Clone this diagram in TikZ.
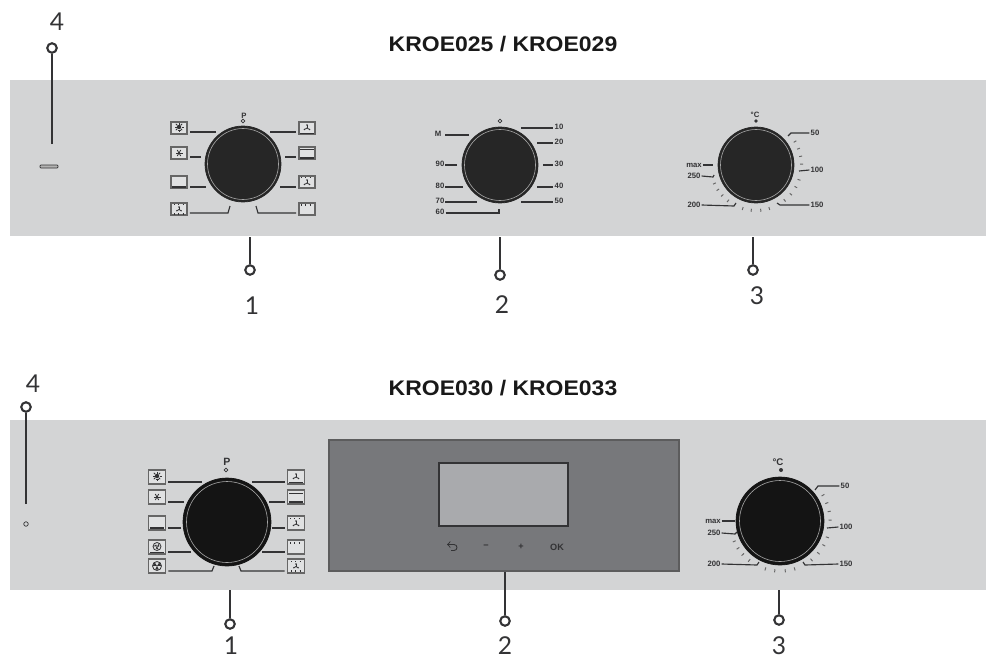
\documentclass[tikz,border=0pt]{standalone}
\usepackage{fontspec}
\setmainfont{Liberation Sans}
\newfontfamily\digitfont{Lato}
\usepackage{xcolor}
\definecolor{panelgray}{HTML}{D3D4D5}
\definecolor{screengray}{HTML}{77787B}
\definecolor{lcdgray}{HTML}{A9AAAD}
\definecolor{inkgray}{HTML}{333335}
\tikzset{
  panel/.style={fill=panelgray,draw=none},
  dialknob/.style={circle,fill=#1,draw=#1,inner sep=0pt},
  dialring/.style={draw=gray!70,line width=0.35pt},
  iconbox/.style={rectangle,draw=gray!80!black,line width=0.9pt,fill=panelgray!70!white,minimum width=0.32cm,minimum height=0.25cm,inner sep=0pt},
  iconink/.style={draw=inkgray,line width=0.45pt},
  scalelabel/.style={font=\bfseries\fontsize{4.4}{5}\selectfont,text=inkgray,inner sep=0.5pt},
  scaleline/.style={draw=inkgray,line width=0.65pt},
  scaletick/.style={draw=black!60,line width=0.55pt},
  leadline/.style={draw=inkgray,line width=1.1pt},
  ringmark/.style={circle,draw=inkgray,line width=1.2pt,fill=white,minimum size=0.19cm,inner sep=0pt},
  refdigit/.style={font=\digitfont\fontsize{14}{16}\selectfont,text=inkgray,inner sep=0pt},
  heading/.style={font=\bfseries\fontsize{12}{14}\selectfont,text=black!90,inner sep=0pt,xscale=1.09},
  pilotmark/.style={circle,draw=inkgray,line width=0.4pt,minimum size=0.075cm,inner sep=0pt},
  keylabel/.style={font=\bfseries\fontsize{5.2}{6}\selectfont,text=inkgray,inner sep=0pt},
  iclamp/.pic={
    \fill[inkgray] (0,-1) circle (2.2);
    \foreach \a in {0,45,...,315} \draw[iconink] (0,-1) ++(\a:2.5) -- ++(\a:2);
    \draw[iconink] (-1.5,2.5) -- (1.5,2.5);},
  icsnow/.pic={
    \foreach \a in {0,60,120} \draw[iconink] (\a:3.5) -- (\a+180:3.5);
    \fill[inkgray] (0,0) circle (1.2);},
  icbot/.pic={\draw[iconink,line width=0.8pt] (-7,5) -- (7,5);},
  ictopbot/.pic={\draw[iconink] (-7,-4) -- (7,-4); \draw[iconink,line width=0.8pt] (-7,5) -- (7,5);},
  icfanbot/.pic={
    \foreach \a in {270,30,150} {\draw[iconink] (0,0) -- (\a:3); \fill[inkgray] (\a:3) circle (0.8);}
    \draw[iconink] (-7,5) -- (7,5);},
  ictop/.pic={\draw[iconink,dotted,line width=0.8pt] (-6,-4) -- (6,-4);},
  icfantop/.pic={
    \foreach \a in {270,30,150} {\draw[iconink] (0,1) -- ++(\a:3); \fill[inkgray] (0,1) ++(\a:3) circle (0.8);}
    \draw[iconink,dotted,line width=0.8pt] (-6,-4.5) -- (6,-4.5);},
  icfantopbot/.pic={
    \foreach \a in {270,30,150} {\draw[iconink] (0,0.5) -- ++(\a:2.5); \fill[inkgray] (0,0.5) ++(\a:2.5) circle (0.8);}
    \draw[iconink,dotted,line width=0.8pt] (-5,-4.5) -- (5,-4.5);
    \draw[iconink,dotted,line width=0.8pt] (-5,5) -- (5,5);},
  icroto/.pic={
    \draw[iconink] (0,0) circle (4.5);
    \foreach \a in {90,210,330} \fill[inkgray] (0,0) -- (\a-28:4.2) -- (\a+28:4.2) -- cycle;},
  icrotobot/.pic={
    \draw[iconink] (0,-0.5) circle (4);
    \foreach \a in {90,210,330} \fill[inkgray] (0,-0.5) -- ++(\a-28:3.8) -- ++(\a+118:3.5) -- cycle;
    \draw[iconink] (-7,5) -- (7,5);},
}
\begin{document}
\begin{tikzpicture}[x=0.02cm,y=-0.02cm]
  \useasboundingbox (0,0) rectangle (986,659);
  % top panel
  \fill[panel] (10,80) rectangle (986,236);
  \node[heading] (titleA) at (503,44.5) {KROE025 / KROE029};
  \node[dialknob={black!85},minimum size=1.52cm] (knobA) at (243,164) {};
  \node[dialknob={black!85},minimum size=1.52cm] (knobB) at (500,165) {};
  \node[dialknob={black!85},minimum size=1.52cm] (knobC) at (756,165) {};
  \foreach \k in {knobA,knobB,knobC} \draw[dialring] (\k) circle (35.5);
  \node[scalelabel] (progA) at (244,116) {P};
  \node[pilotmark] (zeroA) at (243,121) {};
  \node[pilotmark] (zeroB) at (500,121) {};
  \node[scalelabel] (degA) at (755,115) {°C};
  \fill[inkgray] (756,121) circle (1.8);
  \fill[white!40!gray,draw=inkgray,line width=0.4pt,rounded corners=0.5pt] (40,165) rectangle (58,168);
  % selector icons, upper
  \foreach \name/\x/\y/\kind in {
      ua/179/128/iclamp,ub/179/153/icsnow,uc/179/182/icbot,ud/179/209/icfantopbot,
      ue/307/128/icfanbot,uf/307/153/ictopbot,ug/307/182/icfantop,uh/307/209/ictop} {
    \node[iconbox] (\name) at (\x,\y) {};
    \pic at (\name) {\kind};
  }
  \foreach \name/\tx/\ty in {ua/216/132,ub/201/157,uc/206/187} {
    \coordinate (tip\name) at (\tx,\ty);
    \draw[scaleline] (tip\name) -- ([xshift=0.04cm]\name.east |- tip\name);
  }
  \foreach \name/\tx/\ty in {ue/270/132,uf/285/157,ug/280/187} {
    \coordinate (tip\name) at (\tx,\ty);
    \draw[scaleline] (tip\name) -- ([xshift=-0.04cm]\name.west |- tip\name);
  }
  \coordinate (tipud) at (230,206);
  \coordinate (tipuh) at (256,206);
  \draw[scaleline] ([xshift=0.04cm]ud.east |- 0,213) -- (228,213) -- (tipud);
  \draw[scaleline] ([xshift=-0.04cm]uh.west |- 0,213) -- (258,213) -- (tipuh);
  % timer scale, upper
  \foreach \name/\txt/\x/\y/\tx in {
      lm/M/438/134/469,l90/90/440/164/457,l80/80/440/186/463,l70/70/440/201/477} {
    \node[scalelabel] (\name) at (\x,\y) {\txt};
    \coordinate (tip\name) at (\tx,\y+1);
    \draw[scaleline] (tip\name) -- (445,\y+1);
  }
  \foreach \name/\txt/\y/\tx in {
      l10/10/127/521,l20/20/142/537,l30/30/164/543,l40/40/186/537,l50/50/201/521} {
    \node[scalelabel] (\name) at (559,\y) {\txt};
    \coordinate (tip\name) at (\tx,\y+1);
    \draw[scaleline] (tip\name) -- (\name.west |- tip\name);
  }
  \node[scalelabel] (l60) at (440,212) {60};
  \coordinate (tipl60) at (499,209);
  \draw[scaleline] (l60.east |- 0,213) -- (499,213) -- (tipl60);
  % thermostat scale, upper
  \foreach \a in {31,21,11,1,-19,-29,-40,-51,-73,-84,-96,-107,-128,-138,-147,-156}
    \draw[scaletick] (knobC) ++(-1*\a:44) -- ++(-1*\a:3);
  \node[scalelabel] (t50) at (815,133) {50};
  \node[scalelabel] (t100) at (817,170) {100};
  \node[scalelabel] (t150) at (817,205) {150};
  \node[scalelabel] (t200) at (694,205) {200};
  \node[scalelabel] (t250) at (694,176) {250};
  \node[scalelabel] (tmax) at (694,165) {max};
  \coordinate (tipt50) at (788,136);
  \coordinate (tipt100) at (799,171);
  \coordinate (tipt150) at (777,203);
  \coordinate (tipt200) at (736,203);
  \coordinate (tipt250) at (714,175);
  \coordinate (tiptmax) at (713,165);
  \draw[scaleline] (t50.west) -- (791,133) -- (tipt50);
  \draw[scaleline] (t100.west) -- (tipt100);
  \draw[scaleline] (t150.west) -- (780,205) -- (tipt150);
  \draw[scaleline] (t200.east) -- (734,206) -- (tipt200);
  \draw[scaleline] (t250.east) -- (713,177) -- (tipt250);
  \draw[scaleline] (tmax.east) -- (tiptmax);
  % leaders, upper
  \foreach \name/\txt/\x/\y/\lx/\ly/\top in {
      a/1/250/270/252/306/237,b/2/500/275/502/305/237,c/3/753/270/757/296/237} {
    \node[ringmark] (ring\name) at (\x,\y) {};
    \node[refdigit] (num\name) at (\lx,\ly) {\txt};
    \coordinate (foot\name) at (\x,\top);
    \draw[leadline] (foot\name) -- (ring\name);
  }
  \node[ringmark] (ringd) at (52,48) {};
  \node[refdigit] (numd) at (57,22) {4};
  \coordinate (footd) at (52,144);
  \draw[leadline] (footd) -- (ringd);
  % bottom panel
  \fill[panel] (10,420) rectangle (986,590);
  \node[heading] (titleB) at (503,388) {KROE030 / KROE033};
  \node[dialknob={black!92},minimum size=1.76cm] (knobD) at (227,522) {};
  \node[dialknob={black!92},minimum size=1.76cm] (knobE) at (780,521) {};
  \foreach \k in {knobD,knobE} \draw[dialring] (\k) circle (40.5);
  \node[scalelabel,font=\bfseries\fontsize{6}{7}\selectfont] (progB) at (227,462) {P};
  \node[pilotmark] (zeroD) at (226,470) {};
  \node[scalelabel,font=\bfseries\fontsize{5.5}{6}\selectfont] (degB) at (778,462) {°C};
  \fill[inkgray] (781,470) circle (2);
  \node[pilotmark,minimum size=0.09cm] (lampB) at (26,524) {};
  % display
  \node[rectangle,draw=inkgray!80,line width=0.7pt,fill=screengray,minimum width=7cm,minimum height=2.62cm,inner sep=0pt] (screen) at (504,505.5) {};
  \node[rectangle,draw=inkgray,line width=0.7pt,fill=lcdgray,minimum width=2.58cm,minimum height=1.26cm,inner sep=0pt] (lcd) at (503.5,494.5) {};
  \draw[draw=inkgray,line width=0.5pt,->] (451,550.5) -- (454,550.5) arc (90:-90:3) -- (447,544.5);
  \node[keylabel] (keyminus) at (486,547) {−};
  \node[keylabel] (keyplus) at (521,547) {+};
  \node[keylabel] (keyok) at (557,547) {OK};
  % selector icons, lower
  \foreach \name/\x/\y/\kind in {
      la/157/477/iclamp,lb/157/497/icsnow,lc/157/523/icbot,ld/157/547/icrotobot,le/157/566/icroto,
      lf/296/477/icfanbot,lg/296/497/ictopbot,lh/296/523/icfantop,li/296/547/ictop,lj/296/566/icfantopbot} {
    \node[iconbox,minimum width=0.34cm,minimum height=0.27cm] (\name) at (\x,\y) {};
    \pic at (\name) {\kind};
  }
  \foreach \name/\tx/\ty in {la/202/482,lb/184/502,lc/181/528,ld/191/552} {
    \coordinate (tip\name) at (\tx,\ty);
    \draw[scaleline] (tip\name) -- ([xshift=0.04cm]\name.east |- tip\name);
  }
  \foreach \name/\tx/\ty in {lf/252/482,lg/269/502,lh/272/528,li/262/552} {
    \coordinate (tip\name) at (\tx,\ty);
    \draw[scaleline] (tip\name) -- ([xshift=-0.04cm]\name.west |- tip\name);
  }
  \coordinate (tiple) at (214,566);
  \coordinate (tiplj) at (239,566);
  \draw[scaleline] ([xshift=0.04cm]le.east |- 0,571) -- (212,571) -- (tiple);
  \draw[scaleline] ([xshift=-0.04cm]lj.west |- 0,571) -- (241,571) -- (tiplj);
  % thermostat scale, lower
  \foreach \a in {31,21,11,1,-19,-29,-40,-51,-73,-84,-96,-107,-128,-138,-147,-156}
    \draw[scaletick] (knobE) ++(-1*\a:48.5) -- ++(-1*\a:3.2);
  \node[scalelabel] (r50) at (845,486) {50};
  \node[scalelabel] (r100) at (846,527) {100};
  \node[scalelabel] (r150) at (846,564) {150};
  \node[scalelabel] (r200) at (714,564) {200};
  \node[scalelabel] (r250) at (714,533) {250};
  \node[scalelabel] (rmax) at (713,521) {max};
  \coordinate (tipr50) at (815,490);
  \coordinate (tipr100) at (827,528);
  \coordinate (tipr150) at (803,562);
  \coordinate (tipr200) at (759,562);
  \coordinate (tipr250) at (737,532);
  \coordinate (tiprmax) at (735,521);
  \draw[scaleline] (r50.west) -- (818,486) -- (tipr50);
  \draw[scaleline] (r100.west) -- (tipr100);
  \draw[scaleline] (r150.west) -- (805,565) -- (tipr150);
  \draw[scaleline] (r200.east) -- (757,565) -- (tipr200);
  \draw[scaleline] (r250.east) -- (735,534) -- (tipr250);
  \draw[scaleline] (rmax.east) -- (tiprmax);
  % leaders, lower
  \foreach \name/\txt/\x/\y/\lx/\ly/\top in {
      e/1/230/624/231/646/590,g/3/779/620/779/646/590} {
    \node[ringmark] (ring\name) at (\x,\y) {};
    \node[refdigit] (num\name) at (\lx,\ly) {\txt};
    \coordinate (foot\name) at (\x,\top);
    \draw[leadline] (foot\name) -- (ring\name);
  }
  \node[ringmark] (ringf) at (505,621) {};
  \node[refdigit] (numf) at (505,646) {2};
  \draw[leadline] (ringf) -- (ringf |- screen.south);
  \node[ringmark] (ringh) at (26,407) {};
  \node[refdigit] (numh) at (33,384) {4};
  \coordinate (footh) at (26,504);
  \draw[leadline] (footh) -- (ringh);
\end{tikzpicture}
\end{document}
